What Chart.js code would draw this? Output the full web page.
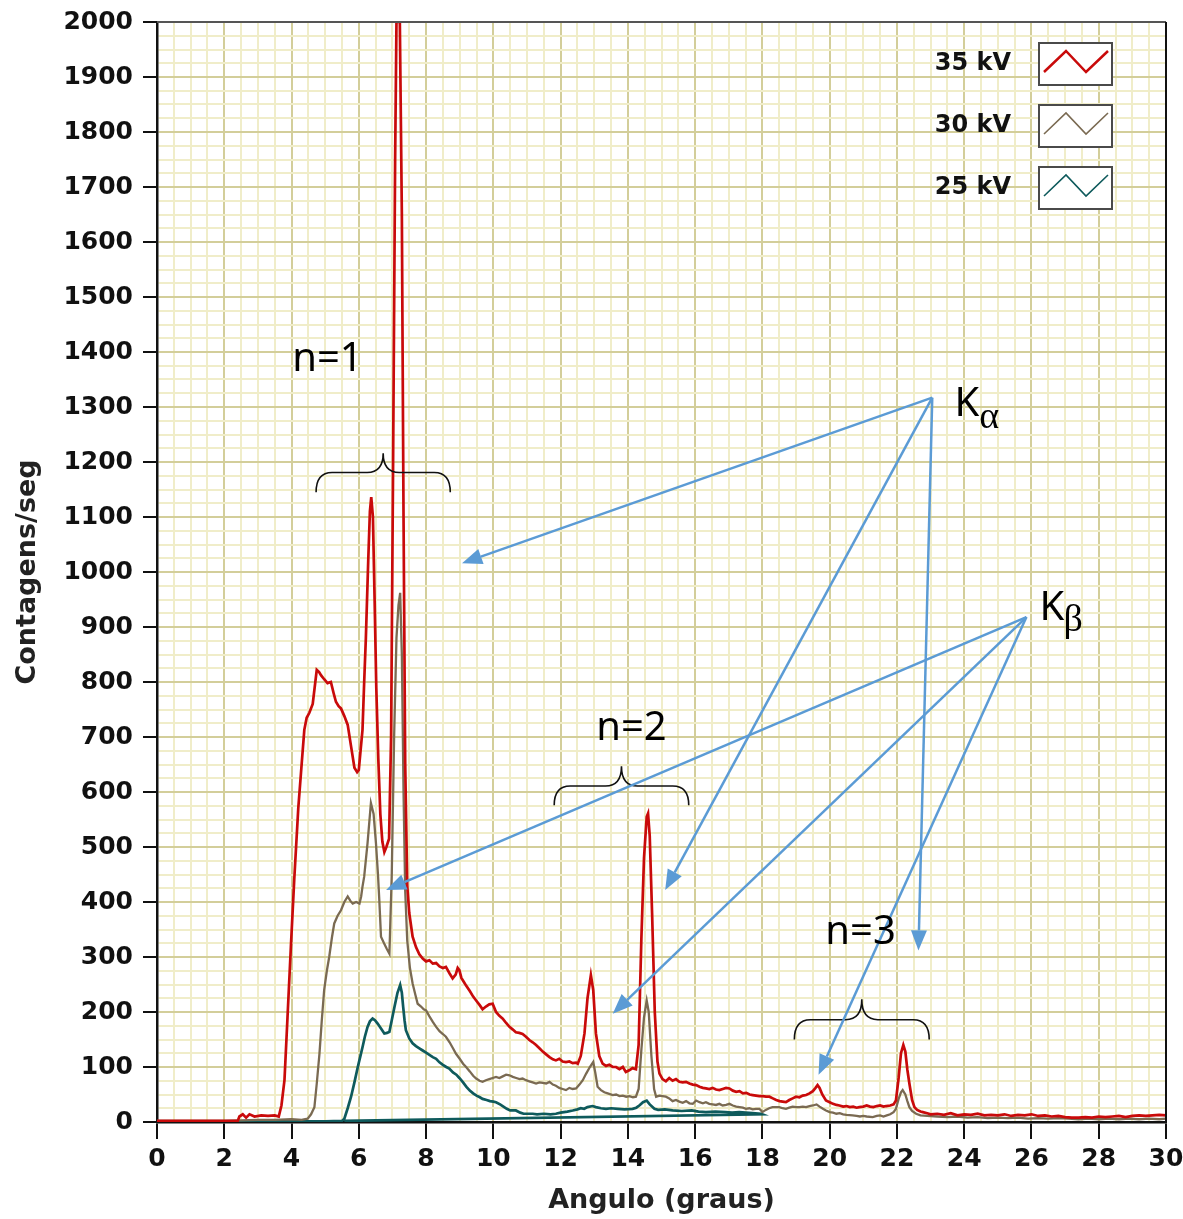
<!DOCTYPE html>
<html>
<head>
<meta charset="utf-8">
<title>Contagens x Angulo</title>
<script src="https://cdn.jsdelivr.net/npm/chart.js@4.4.1/dist/chart.umd.min.js"></script>
<style>
  html,body{margin:0;padding:0;background:#fff;}
  #wrap{width:1183px;height:1219px;position:relative;}
</style>
</head>
<body>
<div id="wrap"><canvas id="chart" width="1183" height="1219"></canvas></div>
<script>
/* ─── DATA (angulo em graus, contagens/seg) ─────────────── */
const KV35 = [
  [0,2],[1,2],[2,2],[2.4,2],[2.45,10],[2.55,14],[2.65,8],[2.75,14],[2.9,10],[3.1,12],[3.3,11],[3.5,12],[3.62,10],
  [3.7,30],[3.79,76],[3.88,190],[3.98,318],[4.08,440],[4.2,570],[4.3,650],[4.38,713],[4.45,735],[4.53,744],[4.63,760],
  [4.75,822],[4.82,818],[4.88,812],[4.97,805],[5.07,798],[5.17,800],[5.25,780],[5.32,764],[5.4,756],[5.47,752],[5.57,738],
  [5.67,722],[5.77,683],[5.87,644],[5.95,636],[6.0,640],[6.06,680],[6.11,713],[6.16,800],[6.21,880],[6.28,1020],[6.33,1110],
  [6.37,1136],[6.42,1100],[6.47,950],[6.52,790],[6.58,660],[6.64,560],[6.7,510],[6.76,491],[6.82,500],[6.9,515],[6.96,700],
  [7.02,1200],[7.08,1750],[7.12,2000],[7.22,2000],[7.28,1650],[7.33,1100],[7.38,650],[7.44,430],[7.5,380],[7.6,337],[7.7,318],
  [7.8,305],[7.9,297],[8.0,292],[8.1,294],[8.2,288],[8.3,289],[8.4,283],[8.5,280],[8.59,282],[8.7,270],[8.79,261],[8.88,268],
  [8.94,280],[8.99,276],[9.05,262],[9.12,255],[9.19,248],[9.3,238],[9.4,228],[9.5,220],[9.6,212],[9.68,205],[9.78,210],
  [9.88,214],[9.98,215],[10.08,200],[10.18,193],[10.28,188],[10.38,180],[10.48,173],[10.58,168],[10.67,163],[10.77,162],
  [10.87,160],[10.97,155],[11.07,149],[11.17,145],[11.27,140],[11.37,134],[11.47,128],[11.57,123],[11.67,118],[11.77,114],
  [11.86,112],[11.96,115],[12.06,110],[12.16,109],[12.26,110],[12.36,107],[12.46,108],[12.51,106],[12.6,120],[12.71,161],
  [12.8,225],[12.9,267],[12.97,240],[13.05,161],[13.15,120],[13.25,106],[13.35,102],[13.45,104],[13.55,100],[13.65,100],
  [13.75,96],[13.85,100],[13.94,91],[14.04,94],[14.14,98],[14.24,96],[14.32,140],[14.4,330],[14.48,480],[14.56,555],[14.6,561],
  [14.65,520],[14.72,380],[14.8,200],[14.88,110],[14.94,88],[15.03,78],[15.13,74],[15.23,80],[15.33,75],[15.43,78],[15.53,73],
  [15.63,72],[15.73,73],[15.83,70],[15.93,68],[16.03,67],[16.13,64],[16.23,62],[16.32,61],[16.42,60],[16.52,62],[16.62,59],
  [16.72,58],[16.82,60],[16.92,62],[17.02,61],[17.12,57],[17.22,55],[17.32,56],[17.42,52],[17.52,53],[17.62,50],[17.71,49],
  [17.81,48],[17.91,47],[18.01,47],[18.11,46],[18.21,46],[18.31,43],[18.41,40],[18.51,38],[18.6,37],[18.7,36],[18.8,40],
  [18.9,43],[19.0,46],[19.1,45],[19.2,48],[19.3,49],[19.4,52],[19.5,56],[19.58,62],[19.64,67],[19.7,62],[19.78,50],[19.89,39],
  [20.0,36],[20.1,33],[20.2,31],[20.29,30],[20.4,28],[20.5,29],[20.6,27],[20.7,28],[20.8,26],[20.88,27],[21.0,28],[21.1,30],
  [21.2,28],[21.3,27],[21.4,29],[21.5,30],[21.6,28],[21.68,29],[21.8,30],[21.9,32],[21.97,39],[22.05,80],[22.12,125],
  [22.19,140],[22.25,128],[22.31,95],[22.37,70],[22.45,40],[22.52,27],[22.6,22],[22.7,19],[22.77,18],[22.9,16],[23.0,14],
  [23.2,15],[23.4,13],[23.6,16],[23.8,12],[24.0,14],[24.2,13],[24.4,15],[24.6,12],[24.8,13],[25.0,12],[25.2,14],[25.4,11],
  [25.6,13],[25.8,12],[26.0,14],[26.2,11],[26.4,12],[26.6,10],[26.8,11],[27.0,9],[27.2,8],[27.4,8],[27.6,9],[27.8,8],[28.0,10],
  [28.2,9],[28.4,10],[28.6,11],[28.8,9],[29.0,11],[29.2,12],[29.4,11],[29.6,12],[29.8,13],[30.0,12]
];
const KV30 = [
  [0,2],[1,2],[2,2],[2.5,3],[3.0,4],[3.5,4],[4.0,5],[4.3,4],[4.48,6],[4.58,14],[4.68,27],[4.75,70],[4.83,124],[4.9,185],
  [4.97,240],[5.05,275],[5.12,300],[5.2,335],[5.27,361],[5.37,375],[5.47,385],[5.57,400],[5.67,410],[5.75,402],[5.82,397],
  [5.92,400],[6.02,397],[6.07,410],[6.11,428],[6.16,446],[6.26,507],[6.36,580],[6.44,560],[6.51,507],[6.57,450],[6.61,403],
  [6.66,337],[6.75,325],[6.83,315],[6.91,306],[6.98,450],[7.05,700],[7.12,880],[7.18,940],[7.23,962],[7.28,850],[7.33,600],
  [7.38,420],[7.44,330],[7.52,280],[7.6,252],[7.68,232],[7.75,215],[7.85,210],[7.93,205],[8.0,203],[8.1,192],[8.2,182],
  [8.3,173],[8.4,165],[8.5,160],[8.59,155],[8.7,145],[8.8,134],[8.89,124],[9.0,115],[9.1,106],[9.19,100],[9.3,92],[9.4,84],
  [9.49,79],[9.59,75],[9.68,73],[9.78,76],[9.88,78],[9.98,80],[10.08,82],[10.18,80],[10.28,83],[10.38,86],[10.48,85],
  [10.58,82],[10.68,80],[10.78,78],[10.87,79],[10.97,76],[11.07,74],[11.17,72],[11.27,70],[11.37,72],[11.47,71],[11.57,70],
  [11.67,73],[11.77,68],[11.86,66],[11.96,62],[12.06,60],[12.16,58],[12.26,62],[12.36,60],[12.46,61],[12.56,68],[12.66,76],
  [12.76,88],[12.87,100],[12.97,109],[13.03,90],[13.1,64],[13.2,58],[13.3,54],[13.4,52],[13.55,49],[13.65,50],[13.75,47],
  [13.85,48],[13.95,46],[14.05,47],[14.15,45],[14.24,46],[14.32,60],[14.4,130],[14.48,190],[14.56,221],[14.62,200],[14.7,120],
  [14.78,60],[14.84,46],[14.94,48],[15.03,47],[15.13,46],[15.23,43],[15.33,38],[15.43,40],[15.53,37],[15.63,35],[15.73,38],
  [15.83,34],[15.93,33],[16.03,39],[16.13,36],[16.23,34],[16.32,36],[16.42,33],[16.52,32],[16.62,31],[16.72,33],[16.82,30],
  [16.92,31],[17.02,33],[17.12,30],[17.22,28],[17.32,27],[17.42,26],[17.51,24],[17.61,25],[17.71,23],[17.81,24],[17.91,24],
  [18.0,18],[18.1,22],[18.2,25],[18.3,27],[18.4,27],[18.5,27],[18.6,25],[18.7,24],[18.8,26],[18.9,28],[19.0,27],[19.1,27],
  [19.2,28],[19.3,27],[19.4,29],[19.5,30],[19.61,32],[19.7,28],[19.8,24],[19.89,21],[20.0,18],[20.1,17],[20.2,15],[20.3,16],
  [20.4,14],[20.5,13],[20.68,12],[20.8,11],[20.9,10],[21.0,11],[21.1,10],[21.28,9],[21.4,11],[21.5,12],[21.6,10],[21.7,12],
  [21.8,14],[21.9,18],[21.97,24],[22.05,42],[22.12,54],[22.17,58],[22.25,50],[22.31,38],[22.37,27],[22.45,20],[22.57,15],
  [22.7,12],[22.9,11],[23.2,10],[23.5,9],[23.8,10],[24.1,8],[24.4,9],[24.7,7],[25.0,8],[25.3,7],[25.6,8],[25.9,6],[26.2,7],
  [26.5,6],[26.8,7],[27.1,6],[27.4,5],[27.7,6],[28.0,5],[28.3,6],[28.6,5],[28.9,6],[29.2,5],[29.5,6],[29.8,5],[30.0,6]
];
const KV25 = [
  [0,1],[1,1],[2,1],[3,1],[4,1],[5,1],[5.5,2],[5.57,6],[5.67,25],[5.77,46],[5.87,72],[5.97,100],[6.04,118],[6.11,136],
  [6.18,155],[6.26,173],[6.33,183],[6.41,188],[6.48,185],[6.56,179],[6.66,170],[6.76,161],[6.84,162],[6.91,164],[6.98,185],
  [7.06,209],[7.15,235],[7.23,249],[7.28,235],[7.32,209],[7.36,185],[7.4,167],[7.5,152],[7.6,143],[7.7,138],[7.8,134],
  [7.9,130],[8.0,126],[8.1,122],[8.2,118],[8.3,115],[8.39,109],[8.5,104],[8.6,100],[8.69,97],[8.8,90],[8.9,86],[8.99,80],
  [9.1,72],[9.2,64],[9.3,57],[9.4,52],[9.5,48],[9.6,45],[9.68,42],[9.8,40],[9.9,38],[10.0,37],[10.08,36],[10.2,32],[10.3,28],
  [10.4,24],[10.5,21],[10.6,21],[10.67,21],[10.8,17],[10.9,15],[11.0,15],[11.17,15],[11.3,14],[11.5,15],[11.7,14],[11.86,15],
  [12.0,17],[12.2,19],[12.36,21],[12.5,23],[12.6,25],[12.7,24],[12.8,27],[12.95,29],[13.05,27],[13.2,25],[13.35,24],[13.5,25],
  [13.7,24],[13.9,23],[14.14,24],[14.25,26],[14.34,30],[14.45,36],[14.56,39],[14.65,32],[14.79,24],[14.9,22],[15.1,23],
  [15.33,21],[15.6,20],[15.9,21],[16.1,19],[16.32,18],[16.6,19],[16.9,18],[17.1,17],[17.31,18],[17.5,17],[17.7,16],
  [17.96,15],[18.0,14],[5.57,2]
];
const SERIES_LABELS = ['35 kV','30 kV','25 kV'];
const SERIES_COLORS = ['#c90a0a','#7a6a52','#0e5a5c'];

/* anotações: texto e setas em coordenadas do gráfico */
const TEXTS_N = [['n=1',4.02,1386],['n=2',13.06,716],['n=3',19.87,345]];
const K_ALPHA = {k:[23.71,1284], sub:[24.45,1262], from:[23.05,1317],
                 to:[[9.07,1016],[15.11,422],[22.64,312]]};
const K_BETA  = {k:[26.24,913], sub:[26.95,893], from:[25.85,918],
                 to:[[6.81,422],[13.55,197],[19.67,86]]};
/* chaves: [x esq, x dir, y base, y meio, y topo] */
const BRACES = [[4.73,8.72,1145,1181,1216],[11.81,15.81,576,611,647],[18.95,22.96,150,186,223]];

const X_MAJOR = 2, Y_MAJOR = 100;
const GRID_MAJOR = '#d3ce9a', GRID_MINOR = '#f0edc9';
const ARROW = '#5b9bd5';

/* ─── HELPERS ─────────────────────────── */
const isMajor = (v,step)=> Math.abs(v/step - Math.round(v/step)) < 1e-6;
const toPts = arr => arr.map(p=>({x:p[0], y:p[1]}));

function arrow(ctx,x0,y0,x1,y1){
  const a=Math.atan2(y1-y0,x1-x0), L=20, W=8;
  const bx=x1-L*Math.cos(a), by=y1-L*Math.sin(a);
  ctx.beginPath(); ctx.moveTo(x0,y0); ctx.lineTo(bx,by); ctx.stroke();
  ctx.beginPath(); ctx.moveTo(x1,y1);
  ctx.lineTo(bx+W*Math.sin(a), by-W*Math.cos(a));
  ctx.lineTo(bx-W*Math.sin(a), by+W*Math.cos(a));
  ctx.closePath(); ctx.fill();
}

function brace(ctx,xl,xr,yb,ym,yt,r){
  const xc=(xl+xr)/2;
  ctx.beginPath();
  ctx.moveTo(xl,yb);
  ctx.quadraticCurveTo(xl,ym,xl+r,ym);
  ctx.lineTo(xc-r,ym);
  ctx.quadraticCurveTo(xc,ym,xc,yt);
  ctx.quadraticCurveTo(xc,ym,xc+r,ym);
  ctx.lineTo(xr-r,ym);
  ctx.quadraticCurveTo(xr,ym,xr,yb);
  ctx.stroke();
}

/* ─── PLUGIN: moldura, legenda, anotações ─── */
const overlay = {
  id:'overlay',
  beforeDraw(chart){
    const {ctx}=chart;
    ctx.save(); ctx.fillStyle='#fff'; ctx.fillRect(0,0,chart.width,chart.height); ctx.restore();
  },
  afterDatasetsDraw(chart){
    const {ctx,chartArea:a,scales:{x,y}}=chart;
    const px=v=>x.getPixelForValue(v), py=v=>y.getPixelForValue(v);
    ctx.save();

    /* moldura topo / direita */
    ctx.lineWidth=2;
    ctx.strokeStyle='#555';
    ctx.beginPath(); ctx.moveTo(a.left,a.top); ctx.lineTo(a.right,a.top); ctx.stroke();
    ctx.strokeStyle='#111';
    ctx.beginPath(); ctx.moveTo(a.right,a.top); ctx.lineTo(a.right,a.bottom); ctx.stroke();

    /* legenda */
    ctx.font='bold 24px "DejaVu Sans"';
    ctx.textAlign='right'; ctx.textBaseline='middle';
    SERIES_LABELS.forEach((lab,i)=>{
      const bx=a.right-127, by=a.top+21+i*62, bw=73, bh=42;
      ctx.fillStyle='#fff'; ctx.fillRect(bx,by,bw,bh);
      ctx.strokeStyle='#4a4a4a'; ctx.lineWidth=2; ctx.strokeRect(bx,by,bw,bh);
      ctx.strokeStyle=SERIES_COLORS[i]; ctx.lineWidth=i===0?2.5:1.6;
      ctx.beginPath();
      ctx.moveTo(bx+5,by+29); ctx.lineTo(bx+27,by+8); ctx.lineTo(bx+47,by+29); ctx.lineTo(bx+69,by+8);
      ctx.stroke();
      ctx.fillStyle='#111';
      ctx.fillText(lab,bx-28,by+bh/2);
    });

    /* chaves */
    ctx.strokeStyle='#111'; ctx.lineWidth=1.6;
    BRACES.forEach(b=> brace(ctx,px(b[0]),px(b[1]),py(b[2]),py(b[3]),py(b[4]),16));

    /* setas */
    ctx.strokeStyle=ARROW; ctx.fillStyle=ARROW; ctx.lineWidth=2.5;
    [K_ALPHA,K_BETA].forEach(k=>{
      k.to.forEach(t=> arrow(ctx,px(k.from[0]),py(k.from[1]),px(t[0]),py(t[1])));
    });

    /* textos */
    ctx.fillStyle='#000'; ctx.textAlign='left';
    ctx.font='40px "Noto Sans"'; ctx.textBaseline='middle';
    TEXTS_N.forEach(t=> ctx.fillText(t[0],px(t[1]),py(t[2])));
    ctx.textBaseline='alphabetic';
    ctx.fillText('K',px(K_ALPHA.k[0]),py(K_ALPHA.k[1]));
    ctx.fillText('K',px(K_BETA.k[0]),py(K_BETA.k[1]));
    ctx.font='38px "Liberation Serif"';
    ctx.fillText('α',px(K_ALPHA.sub[0]),py(K_ALPHA.sub[1]));
    ctx.fillText('β',px(K_BETA.sub[0]),py(K_BETA.sub[1]));

    ctx.restore();
  }
};

/* ─── CHART ───────────────────────────── */
const datasets = [KV35,KV30,KV25].map((d,i)=>({
  label:SERIES_LABELS[i],
  data:toPts(d),
  borderColor:SERIES_COLORS[i],
  backgroundColor:SERIES_COLORS[i],
  borderWidth:i===1?2.3:2.7,
  showLine:true, pointRadius:0, tension:0, fill:false
}));

new Chart(document.getElementById('chart').getContext('2d'),{
  type:'scatter',
  data:{datasets},
  plugins:[overlay],
  options:{
    responsive:false, animation:false, devicePixelRatio:1,
    layout:{padding:{top:22,right:17,left:0,bottom:0}},
    plugins:{legend:{display:false},tooltip:{enabled:false}},
    scales:{
      x:{
        type:'linear', min:0, max:30,
        afterFit:s=>{ s.height=97; s.paddingLeft=0; s.paddingRight=0; },
        border:{color:'#111',width:2.5},
        grid:{
          color:c=> isMajor(c.tick.value,X_MAJOR)?GRID_MAJOR:GRID_MINOR,
          lineWidth:2,
          tickColor:c=> isMajor(c.tick.value,X_MAJOR)?'#111':'rgba(0,0,0,0)',
          tickWidth:2, tickLength:17
        },
        ticks:{
          stepSize:0.5, autoSkip:false, maxRotation:0, padding:5,
          color:'#111', font:{family:'DejaVu Sans',size:25,weight:'bold'},
          callback:v=> isMajor(v,X_MAJOR)?String(v):''
        },
        title:{display:true,text:'Angulo (graus)',color:'#222',
               font:{family:'DejaVu Sans',size:27,weight:'bold'},padding:{top:0,bottom:2}}
      },
      y:{
        type:'linear', min:0, max:2000,
        afterFit:s=>{ s.width=157; s.paddingTop=0; s.paddingBottom=0; },
        border:{color:'#111',width:2.5},
        grid:{
          color:c=> isMajor(c.tick.value,Y_MAJOR)?GRID_MAJOR:GRID_MINOR,
          lineWidth:2,
          tickColor:c=> isMajor(c.tick.value,Y_MAJOR)?'#111':'rgba(0,0,0,0)',
          tickWidth:2, tickLength:14
        },
        ticks:{
          stepSize:25, autoSkip:false, padding:10,
          color:'#111', font:{family:'DejaVu Sans',size:25,weight:'bold'},
          callback:v=> isMajor(v,Y_MAJOR)?String(v):''
        },
        title:{display:true,text:'Contagens/seg',color:'#222',
               font:{family:'DejaVu Sans',size:27,weight:'bold'},padding:{top:12,bottom:0}}
      }
    }
  }
});
</script>
</body>
</html>
